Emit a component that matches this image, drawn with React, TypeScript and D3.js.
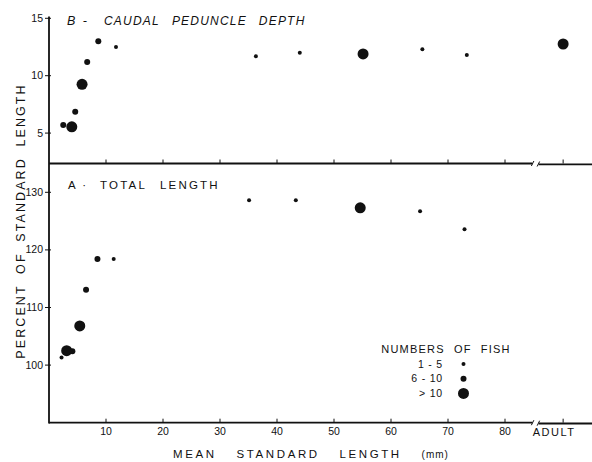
import * as d3 from "d3";

const W = 592;
const H = 462;

// position of the "ADULT" column on the length axis (after the break)
const ADULT = 90.2;

// panel B - caudal peduncle depth
const depthLength = [2.5, 4.0, 4.6, 5.8, 6.7, 8.65, 11.75, 36.3, 44.0, 55.1, 65.5, 73.3, ADULT];
const depthPct = [5.7, 5.55, 6.86, 9.25, 11.2, 13.0, 12.5, 11.7, 12.0, 11.9, 12.3, 11.8, 12.76];
const depthN = [2, 3, 2, 3, 2, 2, 1, 1, 1, 3, 1, 1, 3];

// panel A - total length
const totalLength = [2.2, 3.1, 4.1, 5.4, 6.5, 8.5, 11.35, 35.1, 43.3, 54.6, 65.1, 72.9];
const totalPct = [101.3, 102.5, 102.4, 106.8, 113.1, 118.4, 118.4, 128.6, 128.6, 127.3, 126.7, 123.6];
const totalN = [1, 3, 2, 3, 2, 2, 1, 1, 1, 3, 1, 1];

const xTicks = [10, 20, 30, 40, 50, 60, 70, 80];
const depthTicks = [5, 10, 15];
const totalTicks = [100, 110, 120, 130];

const legendLabels = ["1 - 5", "6 - 10", "> 10"];
const legendN = [1, 2, 3];

const font = "'Liberation Sans', Arial, sans-serif";
const ink = "#111";

const App = () => {
  const x = d3.scaleLinear().domain([0, 95]).range([49, 49 + 5.7 * 95]);
  const yB = d3.scaleLinear().domain([2.35, 15]).range([163.5, 18.3]);
  const yA = d3.scaleLinear().domain([90, 135]).range([422.7, 163.5]);
  const r = d3.scaleOrdinal<number, number>().domain([1, 2, 3]).range([2, 3, 5.5]);

  const breakL = x(84.8);
  const breakR = x(85.9);

  const xAxis = (y0: number, labels: boolean) => (
    <g>
      <line x1={x(0)} x2={breakL} y1={y0} y2={y0} stroke={ink} strokeWidth={1.8} />
      <line x1={breakR} x2={W} y1={y0 + 0.8} y2={y0 + 0.8} stroke={ink} strokeWidth={1.8} />
      <line x1={breakL - 1} x2={breakL + 1.5} y1={y0 + 2.5} y2={y0 - 2.5} stroke={ink} strokeWidth={1} />
      <line x1={breakR - 1.5} x2={breakR + 1} y1={y0 + 3} y2={y0 - 2} stroke={ink} strokeWidth={1} />
      {[...xTicks, ADULT].map((t) => (
        <line key={t} x1={x(t)} x2={x(t)} y1={y0} y2={y0 - 4} stroke={ink} strokeWidth={1} />
      ))}
      {labels &&
        xTicks.map((t) => (
          <text key={t} x={x(t)} y={y0 + 12} textAnchor="middle" fontSize={10.5} fontFamily={font} fill={ink}>
            {t}
          </text>
        ))}
      {labels && (
        <text x={x(ADULT) - 9} y={y0 + 13} textAnchor="middle" fontSize={11} letterSpacing={1.5} fontFamily={font} fill={ink}>
          ADULT
        </text>
      )}
    </g>
  );

  const yTicks = (ticks: number[], y: d3.ScaleLinear<number, number>) =>
    ticks.map((t) => (
      <g key={t}>
        <line x1={45} x2={51} y1={y(t)} y2={y(t)} stroke={ink} strokeWidth={1} />
        <text x={43} y={y(t) + 3.5} textAnchor="end" fontSize={10.5} fontFamily={font} fill={ink}>
          {t}
        </text>
      </g>
    ));

  return (
    <svg width={W} height={H} style={{ position: "absolute", left: 0, top: 0, background: "#fff" }}>
      <rect width={W} height={H} fill="#fff" />

      {/* left axis spanning both panels */}
      <line x1={49} x2={49} y1={16.5} y2={423.5} stroke={ink} strokeWidth={1.8} />
      {yTicks(depthTicks, yB)}
      {yTicks(totalTicks, yA)}

      {xAxis(yB.range()[0], false)}
      {xAxis(yA.range()[0], true)}

      {/* panel titles */}
      <g fontFamily={font} fill={ink}>
        <text x={67} y={25} fontSize={12.5} fontStyle="italic" letterSpacing={2}>B -</text>
        <text x={104} y={25} fontSize={12} fontStyle="italic" letterSpacing={1.2}>
          CAUDAL<tspan dx={12}>PEDUNCLE</tspan>
          <tspan dx={12}>DEPTH</tspan>
        </text>
        <text x={68} y={188.5} fontSize={11.5} letterSpacing={2}>A ·</text>
        <text x={100} y={188.5} fontSize={11.5} letterSpacing={2.2} wordSpacing={8}>
          TOTAL LENGTH
        </text>
      </g>

      {/* points */}
      {depthLength.map((d, i) => (
        <circle key={"b" + i} cx={x(d)} cy={yB(depthPct[i])} r={r(depthN[i])} fill={ink} />
      ))}
      {totalLength.map((d, i) => (
        <circle key={"a" + i} cx={x(d)} cy={yA(totalPct[i])} r={r(totalN[i])} fill={ink} />
      ))}

      {/* axis titles */}
      <text
        transform="translate(25,221) rotate(-90)"
        textAnchor="middle"
        fontSize={12.5}
        letterSpacing={2.1}
        wordSpacing={5}
        fontFamily={font}
        fill={ink}
      >
        PERCENT OF STANDARD LENGTH
      </text>
      <text x={311} y={458} textAnchor="middle" fontSize={11.5} letterSpacing={2.6} wordSpacing={14} fontFamily={font} fill={ink}>
        MEAN STANDARD LENGTH <tspan fontSize={10} letterSpacing={1}>(mm)</tspan>
      </text>

      {/* legend */}
      <text x={446} y={352.5} textAnchor="middle" fontSize={11} letterSpacing={1.2} wordSpacing={5} fontFamily={font} fill={ink}>
        NUMBERS OF FISH
      </text>
      {legendLabels.map((l, i) => (
        <g key={l}>
          <text x={443} y={367.5 + i * 14.7} textAnchor="end" fontSize={10.5} letterSpacing={0.8} fontFamily={font} fill={ink}>
            {l}
          </text>
          <circle cx={463.5} cy={364 + i * 14.7} r={r(legendN[i])} fill={ink} />
        </g>
      ))}
    </svg>
  );
};

export default App;
